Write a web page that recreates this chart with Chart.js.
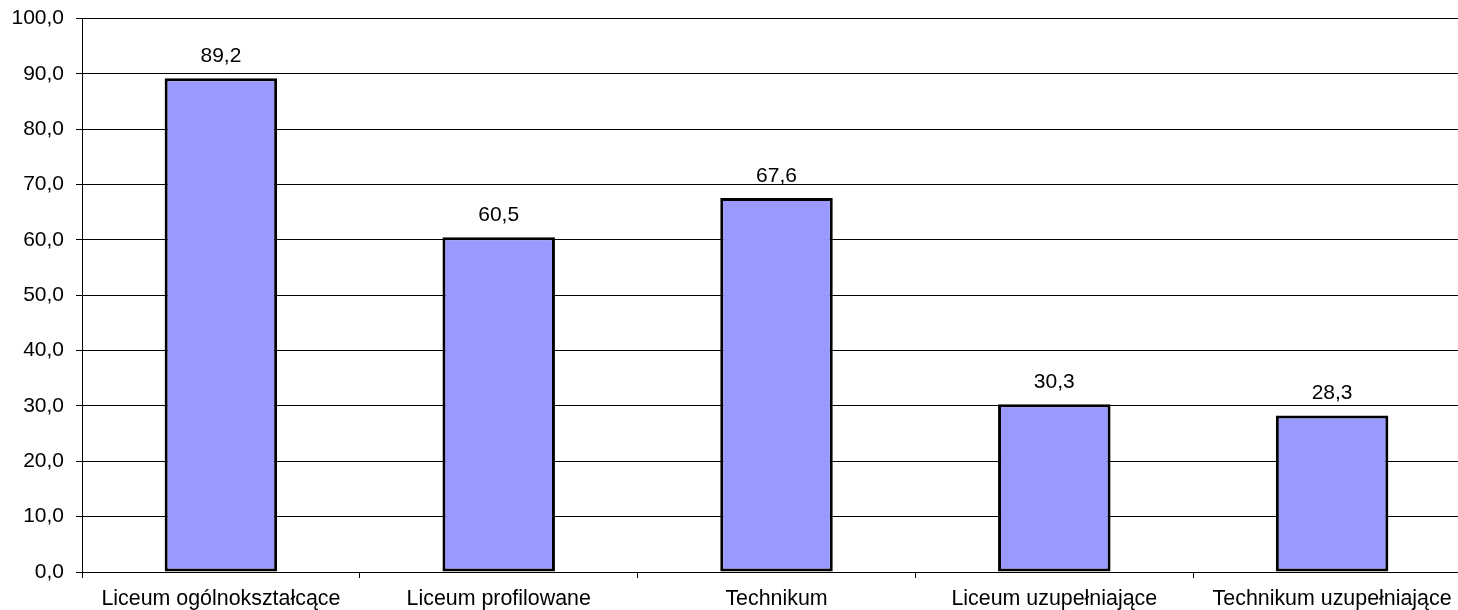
<!DOCTYPE html>
<html>
<head>
<meta charset="utf-8">
<script src="https://cdn.jsdelivr.net/npm/chart.js@4/dist/chart.umd.min.js"></script>
<style>
  html, body { margin: 0; padding: 0; background: #fff; overflow: hidden; }
  #clip { width: 1458px; height: 610px; overflow: hidden; position: relative; }
  #wrap { width: 1471px; height: 616px; position: absolute; left: 0; top: -6px; }
</style>
</head>
<body>
<div id="clip"><div id="wrap"><canvas id="c"></canvas></div></div>
<script>
const categories = ["Liceum ogólnokształcące", "Liceum profilowane", "Technikum", "Liceum uzupełniające", "Technikum uzupełniające"];
const values = [89.2, 60.5, 67.6, 30.3, 28.3];
const yMin = 0, yMax = 100, yStep = 10;

const fmt = v => Number(v).toFixed(1).replace('.', ',');
const FONT = "'Liberation Sans', Arial, sans-serif";

const valueLabels = {
  id: 'valueLabels',
  afterDatasetsDraw(chart) {
    const ctx = chart.ctx;
    const meta = chart.getDatasetMeta(0);
    ctx.save();
    ctx.font = "21px " + FONT;
    ctx.fillStyle = '#000';
    ctx.textAlign = 'center';
    ctx.textBaseline = 'middle';
    meta.data.forEach((bar, i) => {
      ctx.fillText(fmt(values[i]), bar.x, bar.y - 22);
    });
    ctx.restore();
  }
};

new Chart(document.getElementById('c'), {
  type: 'bar',
  data: {
    labels: categories,
    datasets: [{
      data: values,
      backgroundColor: '#9999FF',
      borderColor: '#000',
      borderWidth: 3,
      borderSkipped: false,
      categoryPercentage: 1,
      barPercentage: 0.405
    }]
  },
  options: {
    responsive: true,
    maintainAspectRatio: false,
    animation: false,
    layout: { padding: { top: 12, right: 0, left: 0, bottom: 0 } },
    plugins: { legend: { display: false }, tooltip: { enabled: false } },
    scales: {
      x: {
        offset: true,
        grid: { offset: true, drawOnChartArea: false, drawTicks: true, tickLength: 6, color: '#000', lineWidth: 1 },
        border: { color: '#000', width: 1 },
        ticks: { font: { family: FONT, size: 21.4 }, color: '#000', padding: 8, maxRotation: 0, autoSkip: false },
        afterFit(s) { s.height = 38; }
      },
      y: {
        min: yMin, max: yMax,
        grid: { color: '#000', lineWidth: 1, tickLength: 6 },
        border: { color: '#000', width: 1 },
        ticks: { stepSize: yStep, font: { family: FONT, size: 21 }, color: '#000', padding: 12, callback: v => fmt(v) },
        afterFit(s) { s.width = 82; }
      }
    }
  },
  plugins: [valueLabels]
});
</script>
</body>
</html>
